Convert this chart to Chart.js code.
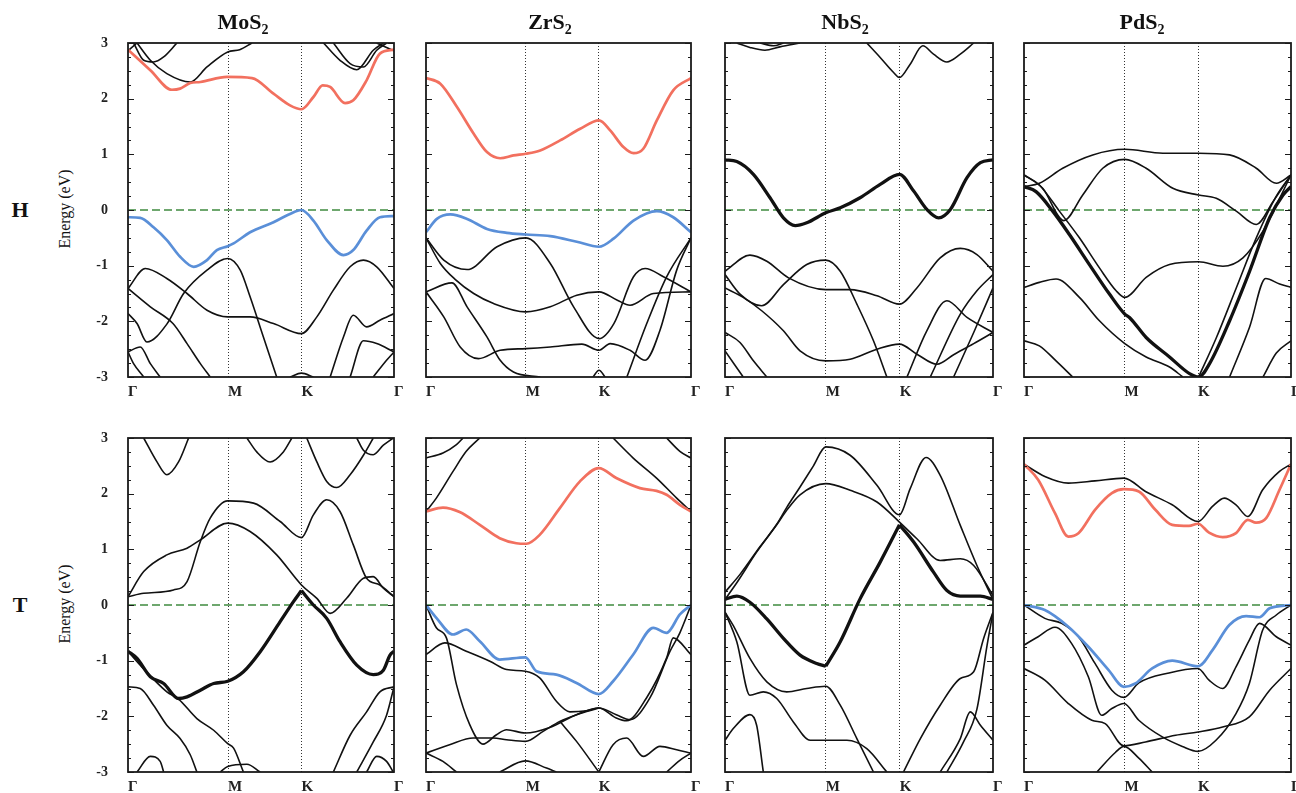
<!DOCTYPE html>
<html>
<head>
<meta charset="utf-8">
<title>Band structures</title>
<script src="https://cdn.jsdelivr.net/npm/chart.js@4.4.1/dist/chart.umd.min.js"></script>
<style>
  body { margin:0; background:#fff; width:1296px; height:793px; overflow:hidden; position:relative;
         font-family:'Liberation Serif','Times New Roman',serif; color:#111; }
  .panel { position:absolute; }
  .title { position:absolute; font-weight:bold; font-size:22px; line-height:22px; transform:translateX(-50%); white-space:nowrap; }
  .title sub { font-size:14px; vertical-align:-5px; line-height:0; }
  .phase { position:absolute; font-weight:bold; font-size:22px; line-height:22px; transform:translate(-50%,-50%); }
  .ylab { position:absolute; font-size:16px; line-height:16px; white-space:nowrap; transform:translate(-50%,-50%) rotate(-90deg); }
</style>
</head>
<body>
<script>
// ---- axes ----
const kLabels = ['Γ', 'M', 'K', 'Γ'];
const kTicks = [0, 0.376, 0.652, 1];
const energyTicks = [3, 2, 1, 0, -1, -2, -3];
const minorStep = 0.25;
const materials = ['MoS', 'ZrS', 'NbS', 'PdS'];
const phases = ['H', 'T'];

// ---- H phase ----
const mos2H_cb = [[0,2.88],[0.084,2.51],[0.165,2.16],[0.196,2.18],[0.234,2.28],[0.272,2.30],[0.372,2.39],[0.466,2.37],[0.547,2.09],[0.609,1.88],[0.652,1.81],[0.697,2.03],[0.732,2.24],[0.760,2.21],[0.816,1.92],[0.847,1.97],[0.897,2.33],[0.947,2.81],[1,2.88]];
const mos2H_vb = [[0,-0.13],[0.046,-0.14],[0.096,-0.31],[0.146,-0.54],[0.196,-0.84],[0.247,-1.02],[0.297,-0.90],[0.334,-0.72],[0.375,-0.65],[0.397,-0.60],[0.459,-0.40],[0.547,-0.22],[0.609,-0.07],[0.652,0],[0.697,-0.19],[0.747,-0.54],[0.810,-0.81],[0.847,-0.72],[0.897,-0.37],[0.947,-0.13],[1,-0.11]];
const mos2H_bands = [
  [[0,-1.41],[0.065,-1.05],[0.146,-1.23],[0.222,-1.50],[0.297,-1.80],[0.375,-1.92],[0.459,-1.92],[0.547,-2.04],[0.652,-2.22],[0.710,-1.92],[0.772,-1.44],[0.835,-1.02],[0.885,-0.90],[0.935,-1.02],[1,-1.41]],
  [[0,-1.86],[0.034,-2.04],[0.071,-2.37],[0.146,-2.05],[0.209,-1.50],[0.297,-1.08],[0.375,-0.87],[0.422,-1.08],[0.459,-1.56],[0.509,-2.28],[0.559,-3.0]],
  [[0,-1.41],[0.084,-1.74],[0.169,-2.04],[0.222,-2.40],[0.272,-2.76],[0.309,-3.0]],
  [[0,-2.55],[0.046,-2.46],[0.084,-2.76],[0.121,-3.0]],
  [[0,-2.55],[0.021,-2.76],[0.059,-3.0]],
  [[0.609,-3.0],[0.652,-2.93],[0.697,-3.0]],
  [[0.760,-3.0],[0.810,-2.28],[0.847,-1.89],[0.897,-2.10],[0.947,-1.98],[1,-1.86]],
  [[0.835,-3.0],[0.885,-2.35],[0.935,-2.40],[1,-2.55]],
  [[0.922,-3.0],[0.972,-2.70],[1,-2.55]],
  [[0.034,3.0],[0.084,2.69],[0.146,2.45],[0.234,2.30],[0.297,2.57],[0.375,2.84],[0.420,2.88],[0.466,3.0]],
  [[0.021,3.0],[0.059,2.69],[0.096,2.66],[0.134,2.75],[0.184,3.0]],
  [[0,2.86],[0.034,3.0]],
  [[0.735,3.0],[0.797,2.69],[0.860,2.52],[0.922,2.87],[0.960,3.0]],
  [[0.772,3.0],[0.835,2.63],[0.885,2.57],[0.935,2.87],[0.972,3.0]],
  [[0.935,3.0],[0.972,2.92],[1,2.86]]
];

const zrs2H_cb = [[0,2.37],[0.054,2.27],[0.117,1.85],[0.180,1.37],[0.230,1.04],[0.280,0.93],[0.330,0.98],[0.377,1.01],[0.431,1.07],[0.506,1.25],[0.582,1.46],[0.653,1.61],[0.695,1.43],[0.745,1.13],[0.783,1.02],[0.820,1.10],[0.871,1.61],[0.933,2.15],[1,2.37]];
const zrs2H_vb = [[0,-0.40],[0.041,-0.16],[0.092,-0.08],[0.155,-0.16],[0.230,-0.34],[0.305,-0.41],[0.377,-0.44],[0.469,-0.47],[0.569,-0.57],[0.653,-0.66],[0.709,-0.51],[0.783,-0.19],[0.871,-0.02],[0.933,-0.13],[1,-0.40]];
const zrs2H_bands = [
  [[0,-0.50],[0.067,-0.90],[0.155,-1.07],[0.268,-0.66],[0.377,-0.50],[0.469,-0.96],[0.557,-1.74],[0.653,-2.31],[0.709,-2.04],[0.783,-1.20],[0.827,-1.05],[0.896,-1.20],[1,-1.47]],
  [[0,-0.50],[0.054,-0.96],[0.111,-1.25],[0.180,-1.50],[0.255,-1.68],[0.377,-1.83],[0.469,-1.74],[0.569,-1.53],[0.653,-1.47],[0.722,-1.62],[0.770,-1.71],[0.858,-1.50],[1,-1.47]],
  [[0,-1.47],[0.098,-1.31],[0.155,-1.74],[0.230,-2.28],[0.280,-2.70],[0.330,-2.91],[0.431,-3.0]],
  [[0,-1.47],[0.067,-1.92],[0.129,-2.46],[0.198,-2.67],[0.280,-2.52],[0.377,-2.49],[0.469,-2.46],[0.588,-2.41],[0.653,-2.52],[0.695,-2.40],[0.770,-2.52],[0.827,-2.70],[0.883,-2.16],[0.946,-1.08],[1,-0.50]],
  [[0.758,-3.0],[0.833,-2.04],[0.908,-1.20],[1,-0.50]],
  [[0.630,-3.0],[0.653,-2.88],[0.676,-3.0]]
];

const nbs2H_fb = [[0,0.90],[0.044,0.87],[0.106,0.64],[0.168,0.22],[0.218,-0.14],[0.262,-0.28],[0.305,-0.23],[0.376,-0.05],[0.430,0.04],[0.504,0.22],[0.579,0.46],[0.651,0.64],[0.704,0.34],[0.753,0.01],[0.797,-0.14],[0.841,0.01],[0.903,0.58],[0.953,0.85],[1,0.90]];
const nbs2H_bands = [
  [[0.529,3.0],[0.579,2.74],[0.629,2.47],[0.651,2.38],[0.691,2.62],[0.738,2.95],[0.778,2.80],[0.828,2.66],[0.878,2.80],[0.928,3.0]],
  [[0.044,3.0],[0.093,2.92],[0.149,2.87],[0.205,2.93],[0.280,3.0]],
  [[0.131,3.0],[0.181,2.95],[0.218,3.0]],
  [[0,-1.10],[0.093,-0.81],[0.156,-0.92],[0.237,-1.22],[0.376,-1.43],[0.467,-1.43],[0.567,-1.54],[0.651,-1.69],[0.716,-1.40],[0.803,-0.86],[0.878,-0.69],[0.940,-0.80],[1,-1.10]],
  [[0,-1.16],[0.056,-1.51],[0.137,-1.72],[0.218,-1.34],[0.305,-0.98],[0.376,-0.90],[0.430,-1.10],[0.492,-1.69],[0.554,-2.35],[0.604,-3.0]],
  [[0,-1.40],[0.068,-1.57],[0.137,-1.81],[0.218,-2.17],[0.280,-2.53],[0.376,-2.71],[0.467,-2.68],[0.567,-2.50],[0.651,-2.41],[0.716,-2.59],[0.791,-2.77],[0.853,-2.60],[0.928,-2.40],[1,-2.20]],
  [[0.679,-3.0],[0.753,-2.17],[0.828,-1.63],[0.903,-1.93],[1,-2.20]],
  [[0.766,-3.0],[0.878,-1.87],[0.940,-1.45],[1,-1.16]],
  [[0.853,-3.0],[0.928,-2.20],[1,-1.40]],
  [[0,-2.20],[0.056,-2.38],[0.106,-2.71],[0.156,-3.0]],
  [[0,-2.53],[0.068,-3.0]]
];

const pds2H_fb = [[0,0.42],[0.045,0.33],[0.1075,-0.02],[0.17,-0.44],[0.245,-0.98],[0.32,-1.51],[0.3775,-1.87],[0.395,-1.93],[0.4575,-2.29],[0.545,-2.64],[0.62,-2.94],[0.654,-3.0],[0.695,-2.76],[0.77,-1.99],[0.845,-1.10],[0.92,-0.14],[0.97,0.27],[1,0.42]];
const pds2H_bands = [
  [[0,0.63],[0.0575,0.45],[0.1325,-0.02],[0.2075,-0.50],[0.2825,-1.04],[0.345,-1.45],[0.3775,-1.57],[0.4575,-1.21],[0.545,-0.98],[0.654,-0.93],[0.745,-1.01],[0.82,-0.86],[0.895,-0.38],[0.9575,0.21],[1,0.63]],
  [[0.654,-3.0],[0.72,-2.30],[0.795,-1.40],[0.87,-0.50],[0.945,0.25],[1,0.63]],
  [[0,0.42],[0.0575,0.48],[0.145,0.75],[0.2575,0.99],[0.3775,1.09],[0.52,1.02],[0.654,1.02],[0.77,0.99],[0.87,0.75],[0.945,0.48],[1,0.63]],
  [[0,0.63],[0.07,0.39],[0.149,-0.19],[0.22,0.27],[0.295,0.75],[0.3775,0.91],[0.4575,0.75],[0.5575,0.39],[0.654,0.27],[0.72,0.21],[0.795,-0.02],[0.87,-0.26],[0.9325,0.15],[1,0.63]],
  [[0,-1.39],[0.0575,-1.30],[0.12,-1.24],[0.2075,-1.57],[0.2825,-1.99],[0.3775,-2.40],[0.4575,-2.64],[0.545,-2.82],[0.595,-3.0]],
  [[0,-2.35],[0.0575,-2.44],[0.12,-2.71],[0.1825,-3.0]],
  [[0.77,-3.0],[0.845,-2.10],[0.905,-1.23],[0.9575,-1.33],[1,-1.39]],
  [[0.895,-3.0],[0.945,-2.57],[1,-2.35]]
];

// ---- T phase ----
const mos2T_fb = [
  [[0,-0.83],[0.034,-0.96],[0.084,-1.29],[0.134,-1.41],[0.190,-1.68],[0.222,-1.65],[0.272,-1.53],[0.322,-1.41],[0.375,-1.37],[0.434,-1.20],[0.497,-0.84],[0.572,-0.30],[0.622,0.06],[0.652,0.26]],
  [[0.652,0.26],[0.697,0],[0.747,-0.24],[0.797,-0.66],[0.860,-1.08],[0.922,-1.25],[0.960,-1.17],[0.985,-0.90],[1,-0.83]]
];
const mos2T_bands = [
  [[0,0.15],[0.059,0.60],[0.146,0.90],[0.222,1.02],[0.272,1.17],[0.375,1.47],[0.459,1.32],[0.559,0.90],[0.652,0.36],[0.710,0.12],[0.760,-0.15],[0.822,0.12],[0.885,0.48],[0.922,0.51],[0.960,0.30],[1,0.15]],
  [[0,0.15],[0.059,0.21],[0.171,0.27],[0.222,0.42],[0.272,1.14],[0.309,1.56],[0.375,1.87],[0.472,1.83],[0.572,1.50],[0.652,1.21],[0.697,1.62],[0.747,1.89],[0.797,1.68],[0.847,1.08],[0.897,0.48],[0.947,0.36],[1,0.15]],
  [[0.059,3.0],[0.109,2.57],[0.146,2.34],[0.190,2.57],[0.228,3.0]],
  [[0.447,3.0],[0.484,2.75],[0.534,2.57],[0.584,2.75],[0.616,3.0]],
  [[0.672,3.0],[0.710,2.57],[0.747,2.22],[0.785,2.11],[0.835,2.34],[0.885,2.69],[0.922,3.0]],
  [[0.860,3.0],[0.885,2.78],[0.922,2.70],[0.960,2.87],[0.997,3.0]],
  [[0,-1.47],[0.046,-1.50],[0.096,-1.80],[0.146,-2.16],[0.196,-2.40],[0.234,-2.69],[0.259,-3.0]],
  [[0,-0.83],[0.046,-1.08],[0.146,-1.56],[0.190,-1.69],[0.259,-2.04],[0.322,-2.25],[0.375,-2.49],[0.397,-2.57],[0.434,-3.0]],
  [[0.034,-3.0],[0.084,-2.72],[0.121,-2.81],[0.134,-3.0]],
  [[0.347,-3.0],[0.375,-2.90],[0.447,-2.86],[0.497,-3.0]],
  [[0.772,-3.0],[0.835,-2.34],[0.897,-1.92],[0.947,-1.56],[1,-1.47]],
  [[0.860,-3.0],[0.922,-2.46],[0.972,-1.98],[1,-1.47]],
  [[0.897,-3.0],[0.935,-2.72],[0.972,-2.81],[0.997,-3.0]]
];

const zrs2T_cb = [[0,1.68],[0.064,1.75],[0.127,1.67],[0.203,1.44],[0.278,1.20],[0.341,1.11],[0.379,1.10],[0.429,1.26],[0.505,1.74],[0.581,2.22],[0.652,2.46],[0.718,2.28],[0.807,2.10],[0.870,2.05],[0.908,1.98],[0.958,1.80],[1,1.68]];
const zrs2T_vb = [[0,0],[0.039,-0.23],[0.102,-0.53],[0.152,-0.44],[0.203,-0.65],[0.278,-0.98],[0.375,-0.94],[0.417,-1.19],[0.492,-1.25],[0.568,-1.40],[0.652,-1.60],[0.706,-1.37],[0.782,-0.89],[0.858,-0.41],[0.908,-0.50],[0.958,-0.17],[1,0]];
const zrs2T_bands = [
  [[0,2.64],[0.064,2.73],[0.115,2.88],[0.140,3.0]],
  [[0,1.68],[0.039,1.92],[0.102,2.40],[0.152,2.76],[0.203,3.0]],
  [[0.706,3.0],[0.782,2.64],[0.870,2.28],[0.946,1.92],[1,1.68]],
  [[0.908,3.0],[0.958,2.76],[1,2.64]],
  [[0,0],[0.039,-0.41],[0.077,-0.59],[0.115,-1.43],[0.165,-2.15],[0.215,-2.50],[0.266,-2.33],[0.304,-2.24],[0.375,-2.30],[0.467,-2.20],[0.568,-1.97],[0.652,-1.85],[0.718,-2.03],[0.757,-2.08],[0.832,-1.67],[0.908,-0.95],[0.933,-0.59],[1,-0.89]],
  [[0,-0.89],[0.071,-0.68],[0.152,-0.83],[0.241,-1.01],[0.304,-1.16],[0.375,-1.19],[0.429,-1.31],[0.492,-1.73],[0.543,-1.92],[0.606,-1.90],[0.652,-1.85],[0.718,-1.97],[0.770,-2.06],[0.845,-1.67],[0.921,-0.83],[0.958,-0.50],[1,0]],
  [[0,-2.66],[0.089,-2.51],[0.178,-2.39],[0.253,-2.39],[0.304,-2.42],[0.375,-2.45],[0.442,-2.27],[0.505,-2.09],[0.568,-1.97],[0.652,-1.85]],
  [[0.505,-2.09],[0.568,-2.45],[0.652,-3.0]],
  [[0.652,-3.0],[0.706,-2.51],[0.757,-2.39],[0.820,-2.72],[0.883,-2.54],[0.946,-2.60],[1,-2.66]],
  [[0,-2.66],[0.064,-2.81],[0.115,-3.0]],
  [[0.278,-3.0],[0.375,-2.80],[0.455,-2.93],[0.492,-3.0]],
  [[0.908,-3.0],[0.958,-2.79],[1,-2.66]]
];

const nbs2T_fb = [
  [[0,0.10],[0.044,0.16],[0.093,0.05],[0.156,-0.25],[0.218,-0.60],[0.280,-0.90],[0.342,-1.05],[0.376,-1.10]],
  [[0.376,-1.10],[0.430,-0.66],[0.504,0.11],[0.579,0.77],[0.651,1.44]],
  [[0.651,1.44],[0.704,1.13],[0.778,0.59],[0.828,0.26],[0.878,0.16],[0.953,0.16],[1,0.10]]
];
const nbs2T_bands = [
  [[0,0.10],[0.044,0.40],[0.118,0.95],[0.193,1.45],[0.230,1.75],[0.280,2.12],[0.330,2.50],[0.376,2.84],[0.467,2.69],[0.567,2.15],[0.651,1.62],[0.691,2.09],[0.750,2.65],[0.803,2.33],[0.878,1.43],[0.940,0.71],[1,0.10]],
  [[0,0.23],[0.056,0.55],[0.131,1.05],[0.193,1.44],[0.230,1.70],[0.280,1.98],[0.376,2.18],[0.467,2.06],[0.567,1.85],[0.651,1.49],[0.716,1.19],[0.803,0.80],[0.878,0.83],[0.928,0.71],[1,0.17]],
  [[0,-0.13],[0.031,-0.37],[0.093,-0.96],[0.156,-1.38],[0.230,-1.56],[0.305,-1.50],[0.376,-1.46],[0.430,-1.80],[0.492,-2.40],[0.554,-3.0]],
  [[0,-0.13],[0.044,-0.66],[0.093,-1.62],[0.143,-1.56],[0.193,-1.68],[0.255,-2.10],[0.318,-2.43],[0.376,-2.43],[0.455,-2.43],[0.529,-2.58],[0.604,-3.0]],
  [[0,-2.43],[0.031,-2.22],[0.093,-1.97],[0.118,-2.16],[0.143,-3.0]],
  [[0.666,-3.0],[0.729,-2.40],[0.803,-1.80],[0.878,-1.32],[0.928,-1.20],[0.965,-0.60],[1,-0.13]],
  [[0.803,-3.0],[0.878,-2.40],[0.915,-1.92],[0.953,-2.16],[1,-2.43]],
  [[0.828,-3.0],[0.890,-2.46],[0.940,-1.87],[0.978,-0.72],[1,-0.13]]
];

const pds2T_cb = [[0,2.53],[0.053,2.25],[0.116,1.65],[0.166,1.23],[0.204,1.29],[0.266,1.71],[0.329,2.01],[0.374,2.08],[0.430,2.04],[0.492,1.71],[0.555,1.44],[0.618,1.42],[0.652,1.46],[0.693,1.30],[0.744,1.22],[0.794,1.29],[0.838,1.53],[0.869,1.48],[0.907,1.56],[0.957,2.07],[1,2.53]];
const pds2T_vb = [[0,0],[0.078,-0.09],[0.166,-0.39],[0.241,-0.75],[0.317,-1.17],[0.374,-1.47],[0.417,-1.41],[0.480,-1.14],[0.555,-1.00],[0.652,-1.10],[0.706,-0.81],[0.769,-0.36],[0.832,-0.20],[0.882,-0.22],[0.920,-0.06],[1,0]];
const pds2T_bands = [
  [[0,2.53],[0.078,2.31],[0.166,2.19],[0.266,2.23],[0.374,2.28],[0.455,2.04],[0.555,1.80],[0.652,1.50],[0.706,1.77],[0.750,1.92],[0.794,1.80],[0.838,1.59],[0.894,2.07],[0.957,2.40],[1,2.53]],
  [[0,0],[0.078,-0.24],[0.141,-0.33],[0.204,-0.57],[0.266,-1.05],[0.329,-1.53],[0.374,-1.66],[0.430,-1.40],[0.543,-1.22],[0.652,-1.14],[0.693,-1.35],[0.744,-1.50],[0.794,-1.11],[0.844,-0.63],[0.882,-0.33],[0.945,-0.57],[1,-0.72]],
  [[0,-0.72],[0.053,-0.57],[0.116,-0.40],[0.178,-0.69],[0.241,-1.29],[0.291,-1.98],[0.329,-1.86],[0.374,-1.77],[0.430,-2.07],[0.518,-2.37],[0.593,-2.54],[0.652,-2.63],[0.719,-2.43],[0.794,-1.95],[0.844,-1.41],[0.894,-0.45],[0.945,-0.18],[1,0]],
  [[0,-1.14],[0.078,-1.35],[0.166,-1.77],[0.254,-2.07],[0.304,-2.13],[0.374,-2.53],[0.455,-2.46],[0.568,-2.34],[0.652,-2.28],[0.744,-2.19],[0.844,-2.01],[0.920,-1.53],[1,-1.14]],
  [[0.273,-3.0],[0.342,-2.65],[0.374,-2.54],[0.430,-2.75],[0.480,-3.0]]
];

// ---- layout ----
const colLeft = [128, 426, 725, 1024];
const colWidth = [266, 265, 268, 267];
const rowTop = [43, 438];
const PANEL_H = 334;
const AXIS_W = 45, AXIS_H = 30, PAD_T = 10, PAD_R = 20;
const titleX = [243, 550, 845, 1142];
const FONT = "'Liberation Serif','Times New Roman',serif";
const RED = '#f2705f', BLUE = '#5a8fd8', INK = '#111';

const panels = [
  { col:0, row:0, cb:mos2H_cb, vb:mos2H_vb, thick:[], thin:mos2H_bands },
  { col:1, row:0, cb:zrs2H_cb, vb:zrs2H_vb, thick:[], thin:zrs2H_bands },
  { col:2, row:0, cb:null, vb:null, thick:[nbs2H_fb], thin:nbs2H_bands },
  { col:3, row:0, cb:null, vb:null, thick:[pds2H_fb], thin:pds2H_bands },
  { col:0, row:1, cb:null, vb:null, thick:mos2T_fb, thin:mos2T_bands },
  { col:1, row:1, cb:zrs2T_cb, vb:zrs2T_vb, thick:[], thin:zrs2T_bands },
  { col:2, row:1, cb:null, vb:null, thick:nbs2T_fb, thin:nbs2T_bands },
  { col:3, row:1, cb:pds2T_cb, vb:pds2T_vb, thick:[], thin:pds2T_bands },
];

// frame + inward ticks on both sides
const framePlugin = {
  id: 'frame',
  afterDraw(chart) {
    const { ctx, chartArea: a, scales: { y } } = chart;
    ctx.save();
    ctx.strokeStyle = '#1a1a1a';
    ctx.lineWidth = 1;
    for (let v = y.min; v <= y.max + 1e-6; v += minorStep) {
      const py = Math.round(y.getPixelForValue(v)) + 0.5;
      const len = Math.abs(v - Math.round(v)) < 1e-6 ? 6 : 3;
      ctx.beginPath();
      ctx.moveTo(a.left, py); ctx.lineTo(a.left + len, py);
      ctx.moveTo(a.right, py); ctx.lineTo(a.right - len, py);
      ctx.stroke();
    }
    ctx.lineWidth = 1.8;
    ctx.strokeRect(a.left, a.top, a.right - a.left, a.bottom - a.top);
    ctx.restore();
  }
};

function band(arr, color, width) {
  return {
    data: arr.map(([x, y]) => ({ x, y })),
    borderColor: color, borderWidth: width,
    pointRadius: 0, fill: false, cubicInterpolationMode: 'monotone', clip: 0
  };
}

function makePanel(p) {
  const W = colWidth[p.col];
  const div = document.createElement('div');
  div.className = 'panel';
  div.style.left = (colLeft[p.col] - AXIS_W) + 'px';
  div.style.top = (rowTop[p.row] - PAD_T) + 'px';
  const canvas = document.createElement('canvas');
  canvas.width = W + AXIS_W + PAD_R;
  canvas.height = PANEL_H + PAD_T + AXIS_H;
  div.appendChild(canvas);
  document.body.appendChild(div);

  const datasets = [];
  if (p.cb) datasets.push(band(p.cb, RED, 2.7));
  if (p.vb) datasets.push(band(p.vb, BLUE, 2.7));
  p.thick.forEach(b => datasets.push(band(b, INK, 3.3)));
  p.thin.forEach(b => datasets.push(band(b, INK, 1.6)));
  datasets.push({ ...band([[0, 0], [1, 0]], '#3f8a3f', 1.3), borderDash: [8, 4], cubicInterpolationMode: 'default', tension: 0 });

  new Chart(canvas, {
    type: 'line',
    data: { datasets },
    plugins: [framePlugin],
    options: {
      responsive: false, animation: false, events: [],
      layout: { padding: { left: 0, top: PAD_T, right: PAD_R, bottom: 0 } },
      plugins: { legend: { display: false }, tooltip: { enabled: false } },
      scales: {
        x: {
          type: 'linear', min: 0, max: 1,
          afterBuildTicks: s => { s.ticks = kTicks.map(v => ({ value: v })); },
          afterFit: s => { s.height = AXIS_H; s.paddingLeft = 0; s.paddingRight = 0; },
          ticks: {
            align: 'start', padding: 6, autoSkip: false, maxRotation: 0, color: '#222',
            font: { family: FONT, size: 15, weight: 'bold' },
            callback: (v, i) => kLabels[i]
          },
          grid: {
            drawTicks: false, lineWidth: 1,
            color: c => (c.index === 1 || c.index === 2) ? '#333' : 'rgba(0,0,0,0)'
          },
          border: { display: false, dash: [1, 2] }
        },
        y: {
          type: 'linear', min: -3, max: 3,
          afterBuildTicks: s => { s.ticks = energyTicks.map(v => ({ value: v })); },
          afterFit: s => { s.width = AXIS_W; s.paddingTop = 0; s.paddingBottom = 0; },
          ticks: { display: p.col === 0, padding: 12, color: '#222', font: { family: FONT, size: 14, weight: 'bold' } },
          grid: { display: false },
          border: { display: false }
        }
      }
    }
  });
}

panels.forEach(makePanel);

// titles and side labels
materials.forEach((m, i) => {
  const t = document.createElement('div');
  t.className = 'title';
  t.style.left = titleX[i] + 'px';
  t.style.top = '11px';
  t.innerHTML = m + '<sub>2</sub>';
  document.body.appendChild(t);
});
phases.forEach((ph, r) => {
  const mid = rowTop[r] + PANEL_H / 2;
  const h = document.createElement('div');
  h.className = 'phase';
  h.style.left = '20px';
  h.style.top = mid + 'px';
  h.textContent = ph;
  document.body.appendChild(h);
  const e = document.createElement('div');
  e.className = 'ylab';
  e.style.left = '65px';
  e.style.top = (mid - 1) + 'px';
  e.textContent = 'Energy (eV)';
  document.body.appendChild(e);
});
</script>
</body>
</html>
